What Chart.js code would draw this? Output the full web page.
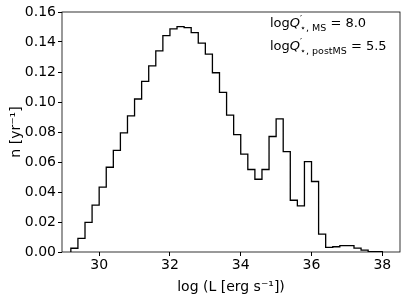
<!DOCTYPE html>
<html>
<head>
<meta charset="utf-8">
<script src="https://cdn.jsdelivr.net/npm/chart.js@4"></script>
<style>
html, body { margin: 0; padding: 0; background: #fff; }
#wrap { width: 407px; height: 300px; }
</style>
</head>
<body>
<div id="wrap"><canvas id="myChart" width="407" height="300"></canvas></div>
<script>
// bin edges of the histogram (log L), 0.2 dex wide
const binEdges = [29.2, 29.4, 29.6, 29.8, 30.0, 30.2, 30.4, 30.6, 30.8, 31.0,
                  31.2, 31.4, 31.6, 31.8, 32.0, 32.2, 32.4, 32.6, 32.8, 33.0,
                  33.2, 33.4, 33.6, 33.8, 34.0, 34.2, 34.4, 34.6, 34.8, 35.0,
                  35.2, 35.4, 35.6, 35.8, 36.0, 36.2, 36.4, 36.6, 36.8, 37.0,
                  37.2, 37.4, 37.6, 37.8, 38.0];
// rate per bin [yr^-1]
const binRates = [0.0005, 0.0025, 0.0091, 0.0197, 0.0313, 0.0432, 0.0565, 0.0678, 0.0794, 0.0907,
                  0.1020, 0.1137, 0.1241, 0.1341, 0.1443, 0.1488, 0.1502, 0.1496, 0.1463, 0.1392,
                  0.1319, 0.1195, 0.1064, 0.0913, 0.0783, 0.0652, 0.0550, 0.0485, 0.0550, 0.0770,
                  0.0888, 0.0669, 0.0345, 0.0308, 0.0602, 0.0470, 0.0119, 0.0031, 0.0035, 0.0042,
                  0.0042, 0.0026, 0.0013, 0.0003];
const xTicks = [30, 32, 34, 36, 38];
const yTicks = [0.00, 0.02, 0.04, 0.06, 0.08, 0.10, 0.12, 0.14, 0.16];

const FONT = "'DejaVu Sans', sans-serif";

// step outline like matplotlib histtype='step'
function buildOutline(edges, rates) {
    const pts = [{ x: edges[0], y: 0 }];
    rates.forEach((r, i) => pts.push({ x: edges[i], y: r }));
    pts.push({ x: edges[edges.length - 1], y: rates[rates.length - 1] });
    pts.push({ x: edges[edges.length - 1], y: 0 });
    return pts;
}

// draws a list of text runs one after the other
function drawRuns(ctx, x, y, runs) {
    let cx = x;
    runs.forEach(run => {
        ctx.font = run.font;
        ctx.fillText(run.text, cx + (run.dx || 0), y + (run.dy || 0));
        if (!run.noAdvance) cx += ctx.measureText(run.text).width + (run.dx || 0);
    });
}

const framePlugin = {
    id: 'frame',
    afterDraw(chart) {
        const ctx = chart.ctx;
        const a = chart.chartArea;
        ctx.save();
        // box round the plot
        ctx.strokeStyle = '#000';
        ctx.lineWidth = 0.8;
        ctx.strokeRect(a.left, a.top, a.right - a.left, a.bottom - a.top);

        ctx.fillStyle = '#000';
        ctx.textBaseline = 'alphabetic';

        // x title
        ctx.textAlign = 'center';
        ctx.font = '14px ' + FONT;
        ctx.fillText('log (L [erg s\u207B\u00B9])', (a.left + a.right) / 2, 291);

        // y title
        ctx.save();
        ctx.translate(20, (a.top + a.bottom) / 2);
        ctx.rotate(-Math.PI / 2);
        ctx.fillText('n [yr\u207B\u00B9]', 0, 0);
        ctx.restore();

        // annotation
        ctx.textAlign = 'left';
        const big = '13px ' + FONT;
        const ital = 'italic 13px ' + FONT;
        const small = '9.5px ' + FONT;
        drawRuns(ctx, 270, 27, [
            { text: 'log', font: big },
            { text: 'Q', font: ital },
            { text: '\u2032', font: small, dy: -5, noAdvance: true },
            { text: '\u22C6, MS', font: small, dy: 4 },
            { text: ' = 8.0', font: big }
        ]);
        drawRuns(ctx, 270, 50, [
            { text: 'log', font: big },
            { text: 'Q', font: ital },
            { text: '\u2032', font: small, dy: -5, noAdvance: true },
            { text: '\u22C6, postMS', font: small, dy: 4 },
            { text: ' = 5.5', font: big }
        ]);
        ctx.restore();
    }
};

const ctx = document.getElementById('myChart').getContext('2d');
const myChart = new Chart(ctx, {
    type: 'line',
    data: {
        datasets: [{
            data: buildOutline(binEdges, binRates),
            stepped: 'after',
            borderColor: '#000',
            borderWidth: 1.3,
            pointRadius: 0,
            fill: false
        }]
    },
    options: {
        responsive: false,
        animation: false,
        devicePixelRatio: 1,
        layout: { padding: { top: 12, right: 7, left: 0, bottom: 0 } },
        plugins: { legend: { display: false }, tooltip: { enabled: false } },
        scales: {
            x: {
                type: 'linear',
                min: 28.95,
                max: 38.5,
                afterBuildTicks: scale => { scale.ticks = xTicks.map(v => ({ value: v })); },
                afterFit: scale => { scale.height = 48; },
                grid: { drawOnChartArea: false, drawTicks: true, tickLength: 4, color: '#000' },
                border: { display: false },
                ticks: {
                    color: '#000',
                    font: { family: FONT, size: 14 },
                    padding: 1,
                    maxRotation: 0,
                    callback: v => String(v)
                }
            },
            y: {
                min: 0,
                max: 0.16,
                afterBuildTicks: scale => { scale.ticks = yTicks.map(v => ({ value: v })); },
                afterFit: scale => { scale.width = 62; },
                grid: { drawOnChartArea: false, drawTicks: true, tickLength: 4, color: '#000' },
                border: { display: false },
                ticks: {
                    color: '#000',
                    font: { family: FONT, size: 14 },
                    padding: 2,
                    callback: v => v.toFixed(2)
                }
            }
        }
    },
    plugins: [framePlugin]
});
</script>
</body>
</html>
